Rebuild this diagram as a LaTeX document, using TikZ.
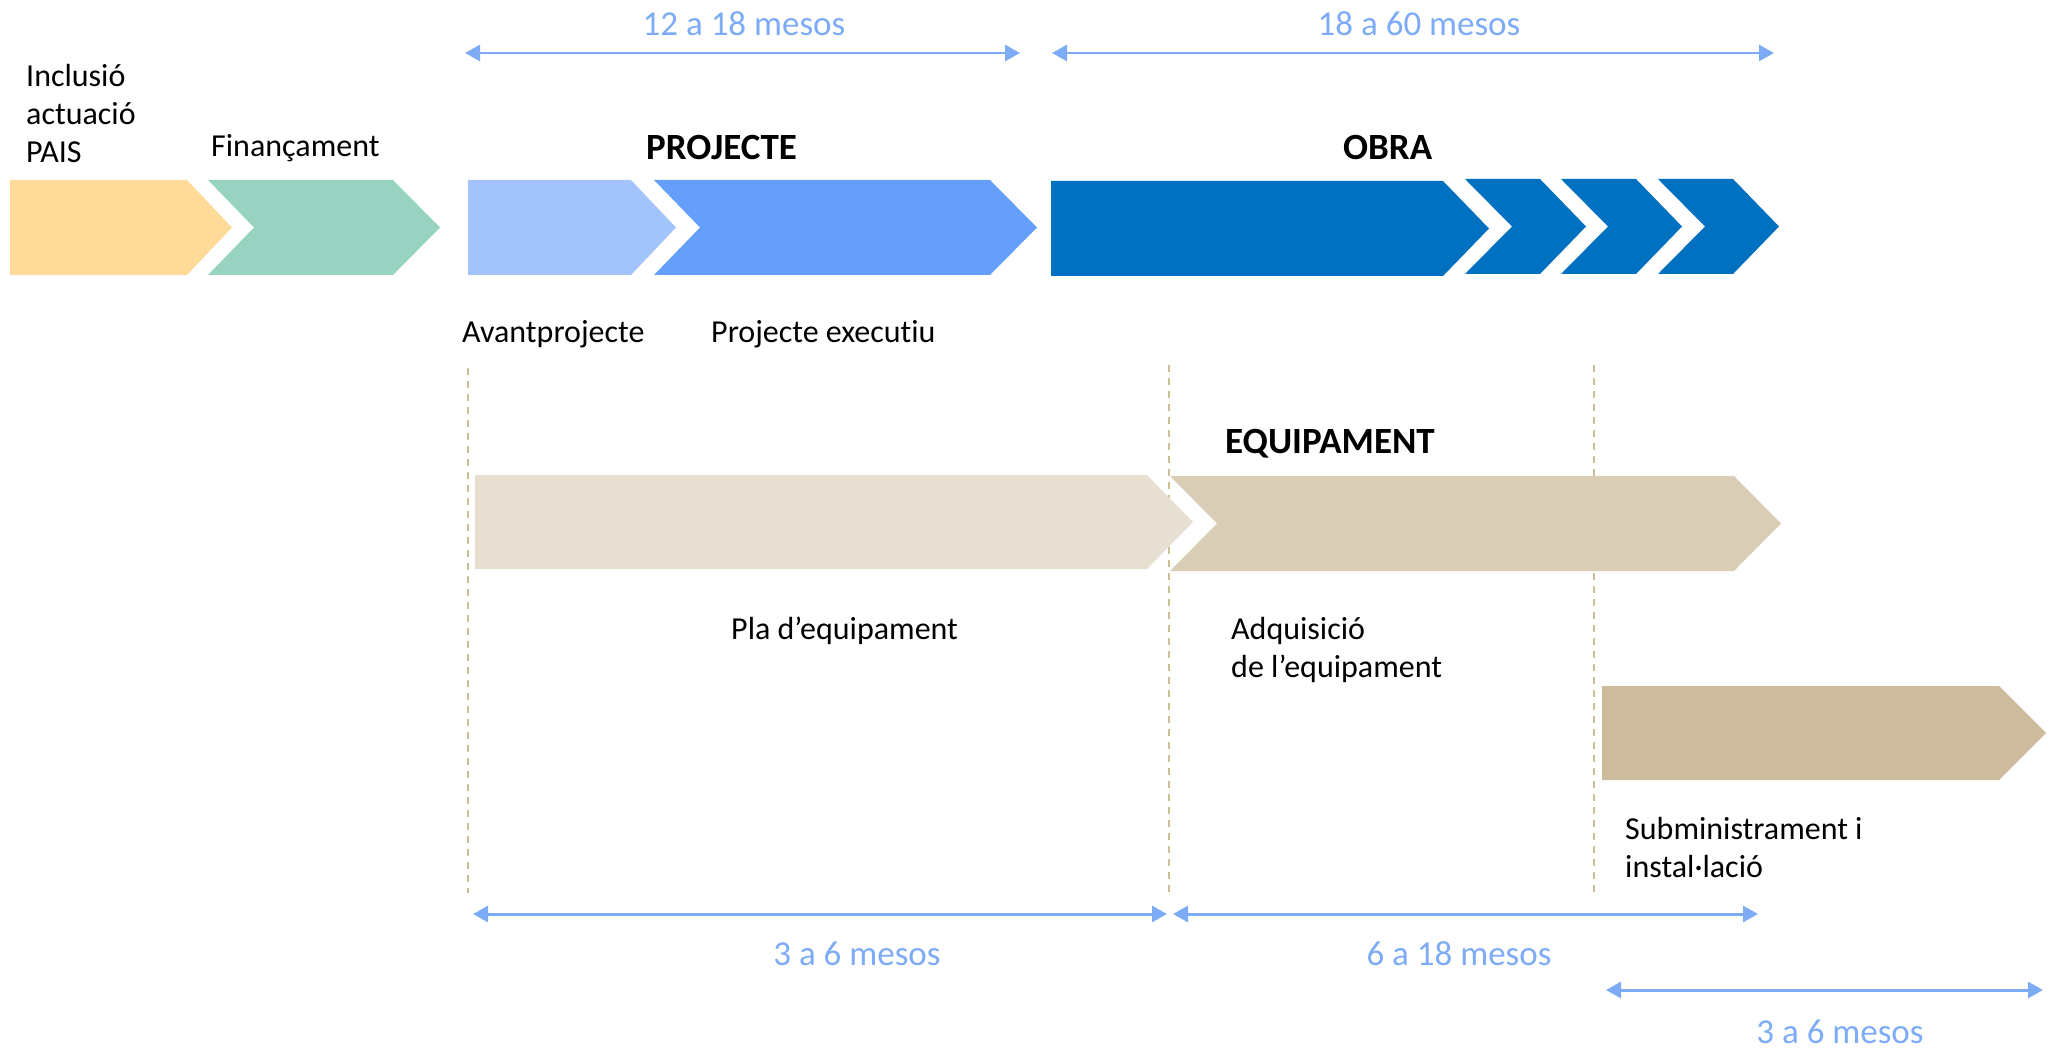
\documentclass[tikz,border=0pt]{standalone}
\usepackage{fontspec}
\setmainfont{Carlito}[Ligatures={NoCommon}]
\usetikzlibrary{arrows.meta}

\definecolor{phaseyellow}{HTML}{FFDA98}
\definecolor{phasegreen}{HTML}{97D3C0}
\definecolor{projlight}{HTML}{A3C4FB}
\definecolor{projmid}{HTML}{659FFB}
\definecolor{obrablue}{HTML}{0070C0}
\definecolor{equiplight}{HTML}{E7DFD2}
\definecolor{equipmid}{HTML}{DACDB6}
\definecolor{equipdark}{HTML}{CCBB9C}
\definecolor{durblue}{HTML}{7DABF6}
\definecolor{guideline}{HTML}{CDBF94}

\begin{document}
\begin{tikzpicture}[x=1pt,y=-1pt,
    label/.style={anchor=base west,inner sep=0pt,align=left,font=\fontsize{32}{38}\selectfont},
    title/.style={anchor=base west,inner sep=0pt,font=\fontsize{37}{44}\selectfont\bfseries},
    durtext/.style={anchor=base,inner sep=0pt,text=durblue,font=\fontsize{35}{42}\selectfont},
    durarrow/.style={draw=durblue,line width=2.5pt,>={Triangle[length=15pt,width=16pt]},<->},
    guide/.style={draw=guideline,line width=1.5pt,dash pattern=on 7pt off 6pt}]
    \useasboundingbox (0,0) rectangle (2060,1048);

    % Guide lines
    \coordinate (g1a) at (468,368);   \coordinate (g1b) at (468,893);
    \coordinate (g2a) at (1169,365);  \coordinate (g2b) at (1169,893);
    \coordinate (g3a) at (1594,365);  \coordinate (g3b) at (1594,898);
    \draw[guide] (g1a) -- (g1b);
    \draw[guide] (g2a) -- (g2b);
    \draw[guide] (g3a) -- (g3b);

    % Top row of phases
    \fill[phaseyellow] (10,180) -- (187,180) -- (232,227.5) -- (187,275) -- (10,275) -- cycle;
    \fill[phasegreen] (208,180) -- (393,180) -- (440,227.5) -- (393,275) -- (208,275) -- (254,227.5) -- cycle;
    \fill[projlight] (468,180) -- (631,180) -- (676,227.5) -- (631,275) -- (468,275) -- cycle;
    \fill[projmid] (654,180) -- (990,180) -- (1037,227.5) -- (990,275) -- (654,275) -- (700,227.5) -- cycle;
    \fill[obrablue] (1051,181) -- (1443,181) -- (1489,228.5) -- (1443,276) -- (1051,276) -- cycle;
    \foreach \x in {1465,1561,1658}
        \fill[obrablue] (\x,179) -- (\x+75,179) -- (\x+121,226.5) -- (\x+75,274) -- (\x,274) -- (\x+47,226.5) -- cycle;

    % Equipment phases
    \fill[equiplight] (475,475) -- (1147,475) -- (1193,522) -- (1147,569) -- (475,569) -- cycle;
    \fill[equipmid] (1170,476) -- (1734,476) -- (1781,523.5) -- (1734,571) -- (1170,571) -- (1217,523.5) -- cycle;
    \fill[equipdark] (1602,686) -- (1999,686) -- (2046,733) -- (1999,780) -- (1602,780) -- cycle;

    % Labels (multi-line ones sit on their last line)
    \node[label] (inclusio) at (26,163) {Inclusió\\actuació\\PAIS};
    \node[label] (financ) at (211,157) {Finançament};
    \node[title] (projecte) at (646,160) {PROJECTE};
    \node[title] (obra) at (1343,160) {OBRA};
    \node[label] (avant) at (462,342) {Avantprojecte};
    \node[label] (execu) at (711,342) {Projecte executiu};
    \node[title] (equip) at (1225,453) {EQUIPAMENT};
    \node[label] (pla) at (731,639) {Pla d’equipament};
    \node[label] (adq) at (1231,677) {Adquisició\\de l’equipament};
    \node[label] (submin) at (1625,877) {Subministrament i\\instal·lació};

    % Durations
    \node[durtext] (dproj) at (744,36) {12 a 18 mesos};
    \node[durtext] (dobra) at (1419,36) {18 a 60 mesos};
    \node[durtext] (dpla) at (857,965) {3 a 6 mesos};
    \node[durtext] (dadq) at (1459,965) {6 a 18 mesos};
    \node[durtext] (dsub) at (1840,1043) {3 a 6 mesos};

    \coordinate (p1) at (465,53);   \coordinate (p2) at (1020,53);
    \coordinate (o1) at (1052,53);  \coordinate (o2) at (1774,53);
    \coordinate (e1) at (473,914);  \coordinate (e2) at (1167,914);
    \coordinate (a1) at (1173,914); \coordinate (a2) at (1758,914);
    \coordinate (s1) at (1606,990); \coordinate (s2) at (2043,990);
    \draw[durarrow] (p1) -- (p2);
    \draw[durarrow] (o1) -- (o2);
    \draw[durarrow,line width=3pt] (e1) -- (e2);
    \draw[durarrow,line width=3pt] (a1) -- (a2);
    \draw[durarrow,line width=3pt] (s1) -- (s2);
\end{tikzpicture}
\end{document}
